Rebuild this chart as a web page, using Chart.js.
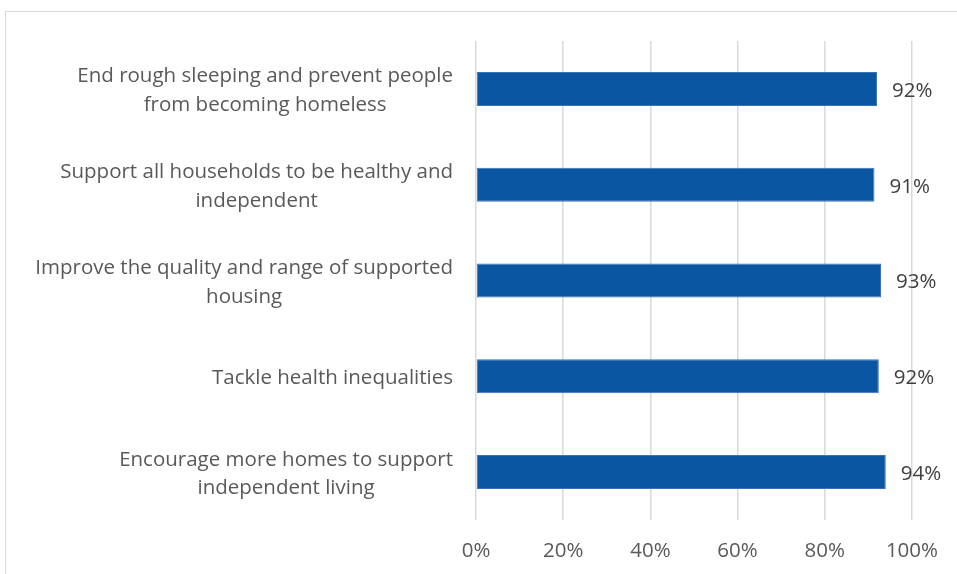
<!DOCTYPE html>
<html>
<head>
<meta charset="utf-8">
<script src="https://cdn.jsdelivr.net/npm/chart.js@4"></script>
<style>
  body { margin: 0; background: #fff; }
  #wrap { position: relative; width: 957px; height: 574px; overflow: hidden; }
</style>
</head>
<body>
<div id="wrap"><canvas id="myChart" width="957" height="574"></canvas></div>
<script>
// categories (top to bottom), each split into the two lines shown
const categories = [
    ['End rough sleeping and prevent people', 'from becoming homeless'],
    ['Support all households to be healthy and', 'independent'],
    ['Improve the quality and range of supported', 'housing'],
    ['Tackle health inequalities'],
    ['Encourage more homes to support', 'independent living']
];
// share agreeing, percent
const values = [92, 91.4, 92.9, 92.4, 94];
const tickValues = [0, 20, 40, 60, 80, 100];

const fontFamily = '"Open Sans", Lato, sans-serif';
const fontSize = 20.5;
const textColor = '#595959';
const barColor = '#0B56A3';
const gridColor = '#d9d9d9';

// the light frame around the chart, cut off at right and bottom
const framePlugin = {
    id: 'frame',
    beforeDraw(chart) {
        const ctx = chart.ctx;
        ctx.save();
        ctx.fillStyle = '#fff';
        ctx.fillRect(0, 0, chart.width, chart.height);
        ctx.strokeStyle = gridColor;
        ctx.lineWidth = 1;
        ctx.strokeRect(5.5, 11.5, chart.width + 20, chart.height + 20);
        ctx.restore();
    }
};

// category labels: block right-aligned to the axis, lines centred inside it
const categoryLabels = {
    id: 'categoryLabels',
    afterDraw(chart) {
        const ctx = chart.ctx;
        const yScale = chart.scales.y;
        const right = chart.chartArea.left - 23;
        const lineH = 28.5;
        ctx.save();
        ctx.font = fontSize + 'px ' + fontFamily;
        ctx.fillStyle = textColor;
        ctx.textAlign = 'center';
        ctx.textBaseline = 'middle';
        categories.forEach((lines, i) => {
            const y = yScale.getPixelForTick(i) + 2;
            const w = Math.max(...lines.map(l => ctx.measureText(l).width));
            const cx = right - w / 2;
            const y0 = y - (lines.length - 1) * lineH / 2;
            lines.forEach((l, j) => ctx.fillText(l, cx, y0 + j * lineH));
        });
        ctx.restore();
    }
};

// value labels to the right of each bar
const valueLabels = {
    id: 'valueLabels',
    afterDatasetsDraw(chart) {
        const ctx = chart.ctx;
        const meta = chart.getDatasetMeta(0);
        ctx.save();
        ctx.font = fontSize + 'px ' + fontFamily;
        ctx.fillStyle = '#404040';
        ctx.textAlign = 'left';
        ctx.textBaseline = 'middle';
        meta.data.forEach((bar, i) => {
            ctx.fillText(Math.round(values[i]) + '%', bar.x + 15, bar.y + 2);
        });
        ctx.restore();
    }
};

new Chart(document.getElementById('myChart'), {
    type: 'bar',
    data: {
        labels: categories,
        datasets: [{
            data: values,
            backgroundColor: barColor,
            borderColor: '#3a72b8',
            borderWidth: 1,
            borderSkipped: false,
            categoryPercentage: 1,
            barPercentage: 0.355
        }]
    },
    options: {
        indexAxis: 'y',
        responsive: false,
        animation: false,
        layout: { padding: { top: 41, right: 43, bottom: 0, left: 0 } },
        plugins: {
            legend: { display: false },
            tooltip: { enabled: false }
        },
        scales: {
            x: {
                min: 0,
                max: 100,
                afterBuildTicks(scale) {
                    scale.ticks = tickValues.map(v => ({ value: v }));
                },
                afterFit(scale) { scale.height = 54; },
                grid: { color: gridColor, lineWidth: 1.5, drawTicks: false },
                border: { display: false },
                ticks: {
                    padding: 19,
                    color: textColor,
                    font: { family: fontFamily, size: fontSize },
                    callback: v => v + '%'
                }
            },
            y: {
                afterFit(scale) { scale.width = 476; },
                grid: { display: false },
                border: { display: false },
                ticks: { display: false }
            }
        }
    },
    plugins: [framePlugin, categoryLabels, valueLabels]
});
</script>
</body>
</html>
